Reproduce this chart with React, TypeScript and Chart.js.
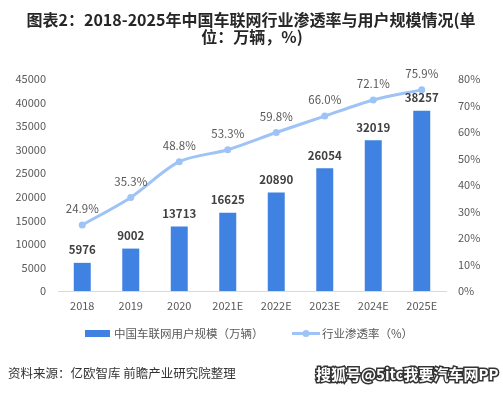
import React, { useEffect, useRef } from "react";
import { Chart, registerables } from "chart.js";

Chart.register(...registerables);

const categories = ["2018", "2019", "2020", "2021E", "2022E", "2023E", "2024E", "2025E"];
const users = [5976, 9002, 13713, 16625, 20890, 26054, 32019, 38257];
const penetration = [24.9, 35.3, 48.8, 53.3, 59.8, 66.0, 72.1, 75.9];
const titleLines = ["图表2：2018-2025年中国车联网行业渗透率与用户规模情况(单", "位：万辆，%)"];
const barLabel = "中国车联网用户规模（万辆）";
const lineLabel = "行业渗透率（%）";
const sourceText = "资料来源：亿欧智库 前瞻产业研究院整理";
const markText = "搜狐号@5itc我要汽车网PP";

const FONT = '"Noto Sans CJK SC", "Noto Sans", sans-serif';
const BAR_COLOR = "#3f82e1";
const LINE_COLOR = "#9ec3f6";

const decorPlugin = {
  id: "decor",
  beforeDraw(chart: any) {
    const ctx = chart.ctx;
    ctx.save();
    ctx.fillStyle = "#ffffff";
    ctx.fillRect(0, 0, chart.width, chart.height);
    ctx.restore();
  },
  afterDatasetsDraw(chart: any) {
    const ctx = chart.ctx;
    ctx.save();
    ctx.textAlign = "center";
    ctx.textBaseline = "middle";
    const barMeta = chart.getDatasetMeta(1);
    ctx.font = `bold 11.5px ${FONT}`;
    ctx.fillStyle = "#404040";
    barMeta.data.forEach((el: any, i: number) => {
      ctx.fillText(String(users[i]), el.x, el.y - 13);
    });
    const lineMeta = chart.getDatasetMeta(0);
    ctx.font = `11.5px ${FONT}`;
    ctx.fillStyle = "#595959";
    lineMeta.data.forEach((el: any, i: number) => {
      ctx.fillText(penetration[i].toFixed(1) + "%", el.x, el.y - 16);
    });
    ctx.restore();
  },
  afterDraw(chart: any) {
    const ctx = chart.ctx;
    ctx.save();
    // title
    ctx.textAlign = "center";
    ctx.textBaseline = "middle";
    ctx.fillStyle = "#262626";
    ctx.font = `bold 16px ${FONT}`;
    ctx.fillText(titleLines[0], 251, 20);
    ctx.fillText(titleLines[1], 252, 37);
    // legend
    ctx.fillStyle = BAR_COLOR;
    ctx.fillRect(85, 330, 25, 7);
    ctx.textAlign = "left";
    ctx.fillStyle = "#595959";
    ctx.font = `11.5px ${FONT}`;
    ctx.fillText(barLabel, 114, 333.5);
    ctx.strokeStyle = LINE_COLOR;
    ctx.lineWidth = 3;
    ctx.beginPath();
    ctx.moveTo(292, 333.5);
    ctx.lineTo(320, 333.5);
    ctx.stroke();
    ctx.fillStyle = LINE_COLOR;
    ctx.beginPath();
    ctx.arc(306, 333.5, 3.5, 0, Math.PI * 2);
    ctx.fill();
    ctx.fillStyle = "#595959";
    ctx.fillText(lineLabel, 322, 333.5);
    // footer
    ctx.fillStyle = "#333333";
    ctx.font = `12.5px ${FONT}`;
    ctx.fillText(sourceText, 8, 373);
    ctx.font = `bold 15px ${FONT}`;
    ctx.lineWidth = 3;
    ctx.strokeStyle = "#333333";
    ctx.strokeText(markText, 316, 374);
    ctx.fillStyle = "#ffffff";
    ctx.fillText(markText, 316, 374);
    ctx.restore();
  },
};

export default function App() {
  const ref = useRef<HTMLCanvasElement>(null);
  useEffect(() => {
    document.body.style.margin = "0";
    const tickFont = { family: FONT, size: 11 };
    const chart = new Chart(ref.current!, {
      type: "bar",
      data: {
        labels: categories,
        datasets: [
          {
            type: "line",
            label: lineLabel,
            data: penetration.map((v) => v / 100),
            yAxisID: "y1",
            borderColor: LINE_COLOR,
            backgroundColor: LINE_COLOR,
            borderWidth: 3,
            pointRadius: 3.5,
            pointBackgroundColor: LINE_COLOR,
            pointBorderWidth: 0,
            tension: 0.3,
            order: 0,
          } as any,
          {
            type: "bar",
            label: barLabel,
            data: users,
            yAxisID: "y",
            backgroundColor: BAR_COLOR,
            categoryPercentage: 1,
            barPercentage: 0.35,
            order: 1,
          },
        ],
      },
      options: {
        responsive: false,
        animation: false,
        devicePixelRatio: 1,
        layout: { padding: { top: 79, left: 0, right: 0, bottom: 0 } },
        plugins: { legend: { display: false }, title: { display: false }, tooltip: { enabled: false } },
        scales: {
          x: {
            grid: { display: false, drawTicks: false },
            border: { display: true, color: "#d9d9d9", width: 1 },
            ticks: { font: tickFont, color: "#595959", padding: 8 },
            afterFit: (s: any) => {
              s.height = 102;
            },
          },
          y: {
            position: "left",
            min: 0,
            max: 45000,
            grid: { display: false, drawTicks: false },
            border: { display: false },
            ticks: {
              stepSize: 5000,
              font: tickFont,
              color: "#595959",
              padding: 12,
              callback: (v: any) => String(Math.round(Number(v))),
            },
            afterFit: (s: any) => {
              s.width = 58;
            },
          },
          y1: {
            position: "right",
            min: 0,
            max: 0.8,
            grid: { display: false, drawTicks: false },
            border: { display: false },
            ticks: {
              stepSize: 0.1,
              font: tickFont,
              color: "#595959",
              padding: 12,
              callback: (v: any) => Math.round(Number(v) * 100) + "%",
            },
            afterFit: (s: any) => {
              s.width = 57;
            },
          },
        },
      } as any,
      plugins: [decorPlugin],
    });
    return () => chart.destroy();
  }, []);
  return <canvas ref={ref} width={503} height={393} style={{ display: "block", width: 503, height: 393 }} />;
}
